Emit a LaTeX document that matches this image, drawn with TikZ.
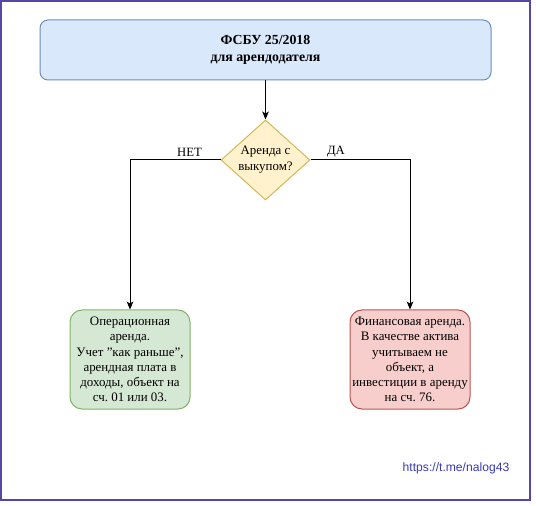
\documentclass[tikz,border=0pt]{standalone}
\usepackage{fontspec}
\setmainfont{Liberation Serif}
\newfontfamily\urlfont{Liberation Sans}
\usetikzlibrary{shapes.geometric,arrows.meta}
\frenchspacing
\definecolor{bluefill}{HTML}{DAE8FC}
\definecolor{bluedraw}{HTML}{6C8EBF}
\definecolor{yelfill}{HTML}{FFF2CC}
\definecolor{yeldraw}{HTML}{D6B656}
\definecolor{grnfill}{HTML}{D5E8D4}
\definecolor{grndraw}{HTML}{82B366}
\definecolor{redfill}{HTML}{F8CECC}
\definecolor{reddraw}{HTML}{B85450}
\definecolor{framecol}{HTML}{5546A8}
\definecolor{urlcol}{HTML}{3A3AB0}
\tikzset{
  px/.style={x=0.75pt,y=-0.75pt},
  box/.style={draw, line width=0.75pt, rounded corners=6pt, inner sep=0pt, align=center,
    font=\fontsize{9.7}{11.4}\selectfont},
  conn/.style={line width=0.75pt, -{Stealth[length=6pt,width=5pt,inset=1.5pt]}},
  lbl/.style={font=\fontsize{9.5}{11}\selectfont, inner sep=0pt}
}
\begin{document}
\begin{tikzpicture}[px]
\useasboundingbox (0,0) rectangle (536,506);
\draw[framecol, line width=1pt] (1,1) rectangle (530,500);
\node[box, fill=bluefill, draw=bluedraw, minimum width=451*0.75pt, minimum height=60*0.75pt, rounded corners=6pt,
  font=\fontsize{10.4}{12.7}\selectfont\bfseries] (top) at (265.5,50) {ФСБУ 25/2018\\для арендодателя};
\node[diamond, draw=yeldraw, fill=yelfill, line width=0.75pt, minimum width=89*0.75pt, minimum height=80*0.75pt,
  inner sep=0pt, aspect=1.11, align=center, font=\fontsize{9.7}{12}\selectfont] (q) at (265.5,160) {Аренда с\\выкупом?};
\node[box, fill=grnfill, draw=grndraw, minimum width=120*0.75pt, minimum height=99*0.75pt, rounded corners=9pt] (op) at (130,359.5)
  {Операционная\\аренда.\\Учет \symbol{34}как раньше\symbol{34},\\арендная плата в\\доходы, объект на\\сч. 01 или 03.};
\node[box, fill=redfill, draw=reddraw, minimum width=120*0.75pt, minimum height=99*0.75pt, rounded corners=9pt] (fin) at (410,359.5)
  {Финансовая аренда.\\В качестве актива\\учитываем не\\объект, а\\инвестиции в аренду\\на сч. 76.};
\draw[conn] (top.south) -- (q.north);
\draw[conn] (q.west) -| (op.north);
\draw[conn] (q.east) -| (fin.north);
\node[lbl] (no) at (189.5,152) {НЕТ};
\node[lbl] (yes) at (336,152) {ДА};
\node[lbl, font=\urlfont\fontsize{9.1}{10}\selectfont, text=urlcol] (url) at (456,468) {https://t.me/nalog43};
\end{tikzpicture}
\end{document}
